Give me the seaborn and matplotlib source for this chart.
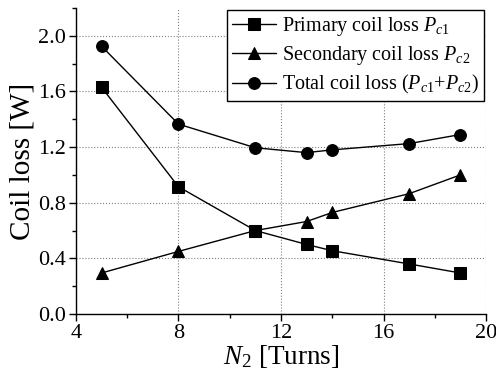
import matplotlib
matplotlib.use("Agg")
import matplotlib.pyplot as plt
import seaborn as sns
import pandas as pd
from matplotlib.ticker import MultipleLocator

turns = [5, 8, 11, 13, 14, 17, 19]
primary = [1.63, 0.915, 0.60, 0.50, 0.455, 0.36, 0.295]
secondary = [0.295, 0.45, 0.60, 0.665, 0.73, 0.865, 1.0]
total = [1.925, 1.365, 1.195, 1.16, 1.18, 1.225, 1.29]
labels = [r"Primary coil loss $P_{c1}$",
          r"Secondary coil loss $P_{c2}$",
          r"Total coil loss $(P_{c1}$+$P_{c2})$"]
yticks = [0, 0.4, 0.8, 1.2, 1.6, 2.0]
ytick_labels = ["0.0", "0.4", "0.8", "1.2", "1.6", "2.0"]

sns.set_style("ticks")
plt.rcParams["font.family"] = ["Liberation Serif", "DejaVu Serif"]
plt.rcParams["mathtext.fontset"] = "custom"
plt.rcParams["mathtext.rm"] = "Liberation Serif"
plt.rcParams["mathtext.it"] = "Liberation Serif:italic"
plt.rcParams["mathtext.bf"] = "Liberation Serif:bold"
plt.rcParams["text.color"] = "black"
plt.rcParams["axes.labelcolor"] = "black"
plt.rcParams["xtick.color"] = "black"
plt.rcParams["ytick.color"] = "black"

fig = plt.figure(figsize=(4.96, 3.77), dpi=100)
ax = fig.add_axes([0.153, 0.167, 0.827, 0.812])

df = pd.DataFrame({"N": turns, "p": primary, "s": secondary, "t": total})
sns.lineplot(data=df, x="N", y="p", ax=ax, color="black", lw=1, marker="s",
             markersize=8, markeredgecolor="black", label=labels[0])
sns.lineplot(data=df, x="N", y="s", ax=ax, color="black", lw=1, marker="^",
             markersize=9, markeredgecolor="black", label=labels[1])
sns.lineplot(data=df, x="N", y="t", ax=ax, color="black", lw=1, marker="o",
             markersize=8.5, markeredgecolor="black", label=labels[2])

ax.set_xlim(4, 20)
ax.set_ylim(0, 2.2)
ax.xaxis.set_major_locator(MultipleLocator(4))
ax.xaxis.set_minor_locator(MultipleLocator(2))
ax.yaxis.set_minor_locator(MultipleLocator(0.2))
ax.set_yticks(yticks)
ax.set_yticklabels(ytick_labels)
ax.grid(True, which="major", ls=":", color="gray", lw=0.8)
ax.set_axisbelow(True)
ax.tick_params(which="major", direction="out", length=5, width=1, labelsize=16, pad=2)
ax.tick_params(which="minor", direction="out", length=3, width=1)
for s in ["top", "right"]:
    ax.spines[s].set_visible(False)
for s in ["left", "bottom"]:
    ax.spines[s].set_color("black")
    ax.spines[s].set_linewidth(1)

ax.set_xlabel(r"$N_2$ [Turns]", fontsize=19.5, labelpad=0)
ax.set_ylabel("Coil loss [W]", fontsize=21, labelpad=2)

leg = ax.legend(loc="upper right", fontsize=14.5, frameon=True, fancybox=False,
                edgecolor="black", framealpha=1, borderpad=0.25, handlelength=2.2,
                handletextpad=0.3, labelspacing=0.3, borderaxespad=0.1)
leg.get_frame().set_linewidth(1)

fig.savefig("out.png", dpi=100)
